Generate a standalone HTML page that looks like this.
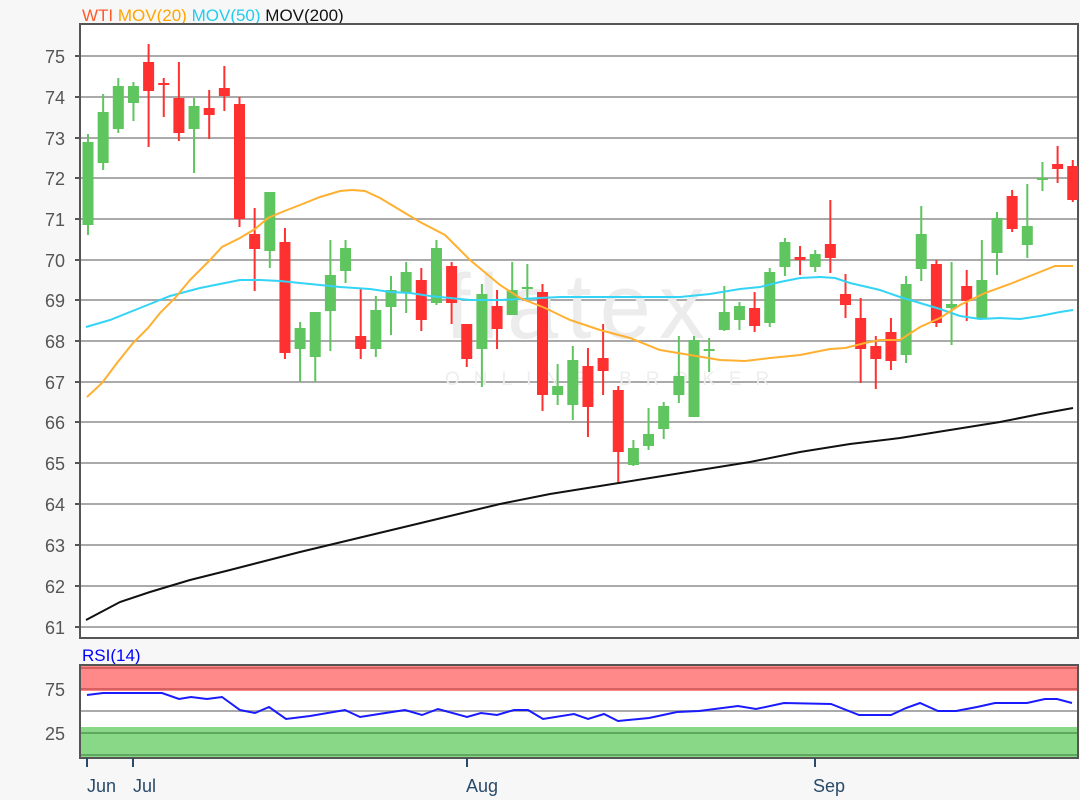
<!DOCTYPE html>
<html><head><meta charset="utf-8"><style>
html,body{margin:0;padding:0;background:#f7f7f7;}
svg{display:block;font-family:"Liberation Sans",sans-serif;}
</style></head><body>
<svg id="c" width="1080" height="800" viewBox="0 0 1080 800" xmlns="http://www.w3.org/2000/svg">
<rect x="0" y="0" width="1080" height="800" fill="#f7f7f7"/>
<text x="82" y="21" font-size="17"><tspan fill="#ff5a2a">WTI</tspan> <tspan fill="#ffa500">MOV(20)</tspan> <tspan fill="#22ccee">MOV(50)</tspan> <tspan fill="#111">MOV(200)</tspan></text>
<rect x="80" y="24" width="998" height="614" fill="#fff" stroke="#555" stroke-width="2"/>
<g stroke="#aaa" stroke-width="2">
<line x1="81" x2="1077" y1="56" y2="56"/><line x1="81" x2="1077" y1="97" y2="97"/><line x1="81" x2="1077" y1="138" y2="138"/><line x1="81" x2="1077" y1="178" y2="178"/><line x1="81" x2="1077" y1="219" y2="219"/><line x1="81" x2="1077" y1="260" y2="260"/><line x1="81" x2="1077" y1="300" y2="300"/><line x1="81" x2="1077" y1="341" y2="341"/><line x1="81" x2="1077" y1="382" y2="382"/><line x1="81" x2="1077" y1="422" y2="422"/><line x1="81" x2="1077" y1="463" y2="463"/><line x1="81" x2="1077" y1="504" y2="504"/><line x1="81" x2="1077" y1="545" y2="545"/><line x1="81" x2="1077" y1="586" y2="586"/><line x1="81" x2="1077" y1="627" y2="627"/>
</g>
<g stroke="#555" stroke-width="2">
<line x1="75" x2="80" y1="56" y2="56"/><line x1="75" x2="80" y1="97" y2="97"/><line x1="75" x2="80" y1="138" y2="138"/><line x1="75" x2="80" y1="178" y2="178"/><line x1="75" x2="80" y1="219" y2="219"/><line x1="75" x2="80" y1="260" y2="260"/><line x1="75" x2="80" y1="300" y2="300"/><line x1="75" x2="80" y1="341" y2="341"/><line x1="75" x2="80" y1="382" y2="382"/><line x1="75" x2="80" y1="422" y2="422"/><line x1="75" x2="80" y1="463" y2="463"/><line x1="75" x2="80" y1="504" y2="504"/><line x1="75" x2="80" y1="545" y2="545"/><line x1="75" x2="80" y1="586" y2="586"/><line x1="75" x2="80" y1="627" y2="627"/>
</g>
<g fill="#555" font-size="18" text-anchor="end">
<text x="65" y="63">75</text><text x="65" y="104">74</text><text x="65" y="145">73</text><text x="65" y="185">72</text><text x="65" y="226">71</text><text x="65" y="267">70</text><text x="65" y="307">69</text><text x="65" y="348">68</text><text x="65" y="389">67</text><text x="65" y="429">66</text><text x="65" y="470">65</text><text x="65" y="511">64</text><text x="65" y="552">63</text><text x="65" y="593">62</text><text x="65" y="634">61</text>
</g>
<text x="445" y="338" font-size="92" fill="#ececec" letter-spacing="8">flatex</text>
<text x="445" y="385" font-size="19" fill="#eeeeee" letter-spacing="14">ONLINE BROKER</text>
<g id="candles"></g>
<polyline fill="none" stroke="#111" stroke-width="2" points="86,620 120,602 150,592 190,580 230,570 300,552 350,540 400,528 450,516 500,504 550,494 600,486 650,478 700,470 750,462 800,452 850,444 900,438 950,430 1000,422 1040,414 1073,408"/>
<polyline fill="none" stroke="#33d4f5" stroke-width="2" points="86,327 110,320 135,310 150,304 170,296 200,288 220,284 240,280 260,280 280,281 300,283 340,287 370,289 390,292 410,293 430,296 470,300 500,300 560,297 600,297 680,297 710,294 740,289 760,287 780,282 800,278 820,277 835,278 850,283 880,290 900,297 920,303 940,309 960,316 980,319 1000,318 1020,319 1040,316 1060,312 1073,310"/>
<polyline fill="none" stroke="#ffb030" stroke-width="2" points="87,397 102,383 117,363 133,343 148,328 160,313 175,298 190,280 210,260 222,247 240,238 255,229 268,218 282,212 300,205 320,197 340,191 352,190 365,191 380,198 400,210 420,222 445,235 470,260 500,285 520,298 545,308 570,320 600,330 630,338 660,350 690,355 720,360 745,361 770,358 800,355 830,349 845,348 865,343 880,340 900,340 920,327 940,318 960,305 985,293 1010,284 1040,272 1055,266 1073,266"/>
<text x="82" y="661" font-size="17" fill="#0000ff">RSI(14)</text>
<rect x="80" y="665" width="998" height="93" fill="#fff" stroke="#555" stroke-width="2"/>
<rect x="81" y="666" width="996" height="25" fill="#ff8888"/>
<line x1="81" x2="1077" y1="668" y2="668" stroke="#d86060" stroke-width="2"/>
<line x1="81" x2="1077" y1="689" y2="689" stroke="#d86060" stroke-width="2"/>
<rect x="81" y="727" width="996" height="30" fill="#88d888"/>
<line x1="81" x2="1077" y1="733" y2="733" stroke="#60a860" stroke-width="2"/>
<line x1="81" x2="1077" y1="755" y2="755" stroke="#60a860" stroke-width="2"/>
<line x1="81" x2="1077" y1="711" y2="711" stroke="#aaa" stroke-width="2"/>
<g fill="#555" font-size="18" text-anchor="end"><text x="65" y="696">75</text><text x="65" y="740">25</text></g>
<polyline fill="none" stroke="#1a1aff" stroke-width="2" points="87,695 103,693 162,693 179,699 191,697 207,699 222,697 240,710 255,713 269,707 286,719 310,716 345,710 360,717 379,714 405,710 422,715 438,709 467,717 481,713 497,715 514,710 528,710 543,719 574,714 588,719 604,714 618,721 649,718 677,712 699,711 738,706 756,709 784,703 831,704 859,715 891,715 906,708 920,703 938,711 956,711 977,707 995,703 1027,703 1045,699 1057,699 1072,703"/>
<g stroke="#2a4a6a" stroke-width="2">
<line x1="87" x2="87" y1="758" y2="767"/><line x1="133" x2="133" y1="758" y2="767"/><line x1="467" x2="467" y1="758" y2="767"/><line x1="815" x2="815" y1="758" y2="767"/>
</g>
<g fill="#2a4a6a" font-size="18">
<text x="87" y="792">Jun</text><text x="133" y="792">Jul</text><text x="466" y="792">Aug</text><text x="813" y="792">Sep</text>
</g>
</svg>
<script>
var d=[
["g",142,225,134,235],["g",112,163,94,170],["g",86,129,78,133],["g",86,103,82,121],["r",62,91,44,147],["r",83,85,78,117],["r",98,133,62,141],["g",106,129,98,173],["r",108,115,90,139],["r",88,96,66,111],
["r",104,219,97,227],["r",234,249,208,291],["g",192,251,192,268],["r",242,353,228,359],["g",328,349,322,382],["g",312,357,312,382],["g",275,311,240,351],["g",248,271,240,283],["r",336,349,289,359],["g",310,349,296,357],
["g",290,307,276,335],["g",272,293,262,313],["r",280,320,268,331],["g",248,303,240,305],["r",266,303,262,324],["r",324,359,324,367],["g",294,349,284,387],["r",306,329,290,349],["g",290,315,262,315],["g",287,289,264,299],
["r",292,395,284,411],["g",386,395,364,405],["g",360,405,346,420],["r",366,407,348,437],["r",358,371,324,395],["r",390,452,386,484],["g",448,465,440,466],["g",434,446,408,450],["g",406,429,402,439],["g",376,395,336,403],
["g",340,417,336,417],["g",349,351,338,372],["g",312,330,286,331],["g",306,320,302,330],["r",308,326,292,332],["g",272,323,268,327],["g",242,267,238,276],["r",257,260,246,275],["g",254,267,250,272],["r",244,258,200,273],
["r",294,305,274,318],["r",318,349,298,383],["r",346,359,336,389],["r",332,361,318,370],["g",284,355,276,363],["g",234,269,206,281],["r",264,323,260,327],["g",304,308,262,345],["r",286,301,270,321],["g",280,318,240,318],
["g",218,253,212,275],["r",196,229,190,232],["g",226,245,184,258],["g",178,180,162,191],["r",164,169,146,183],["r",166,200,160,202]];
var g=document.getElementById("candles"),s="";
for(var i=0;i<d.length;i++){var x=88+i*15.15,c=d[i][0]=="g"?"#5fc55f":"#ff3030";
s+='<line x1="'+x+'" x2="'+x+'" y1="'+d[i][3]+'" y2="'+d[i][4]+'" stroke="'+c+'" stroke-width="2"/>';
var h=Math.max(2,d[i][2]-d[i][1]);
s+='<rect x="'+(x-5.5)+'" y="'+d[i][1]+'" width="11" height="'+h+'" fill="'+c+'"/>';}
g.innerHTML=s;
</script>
</body></html>
